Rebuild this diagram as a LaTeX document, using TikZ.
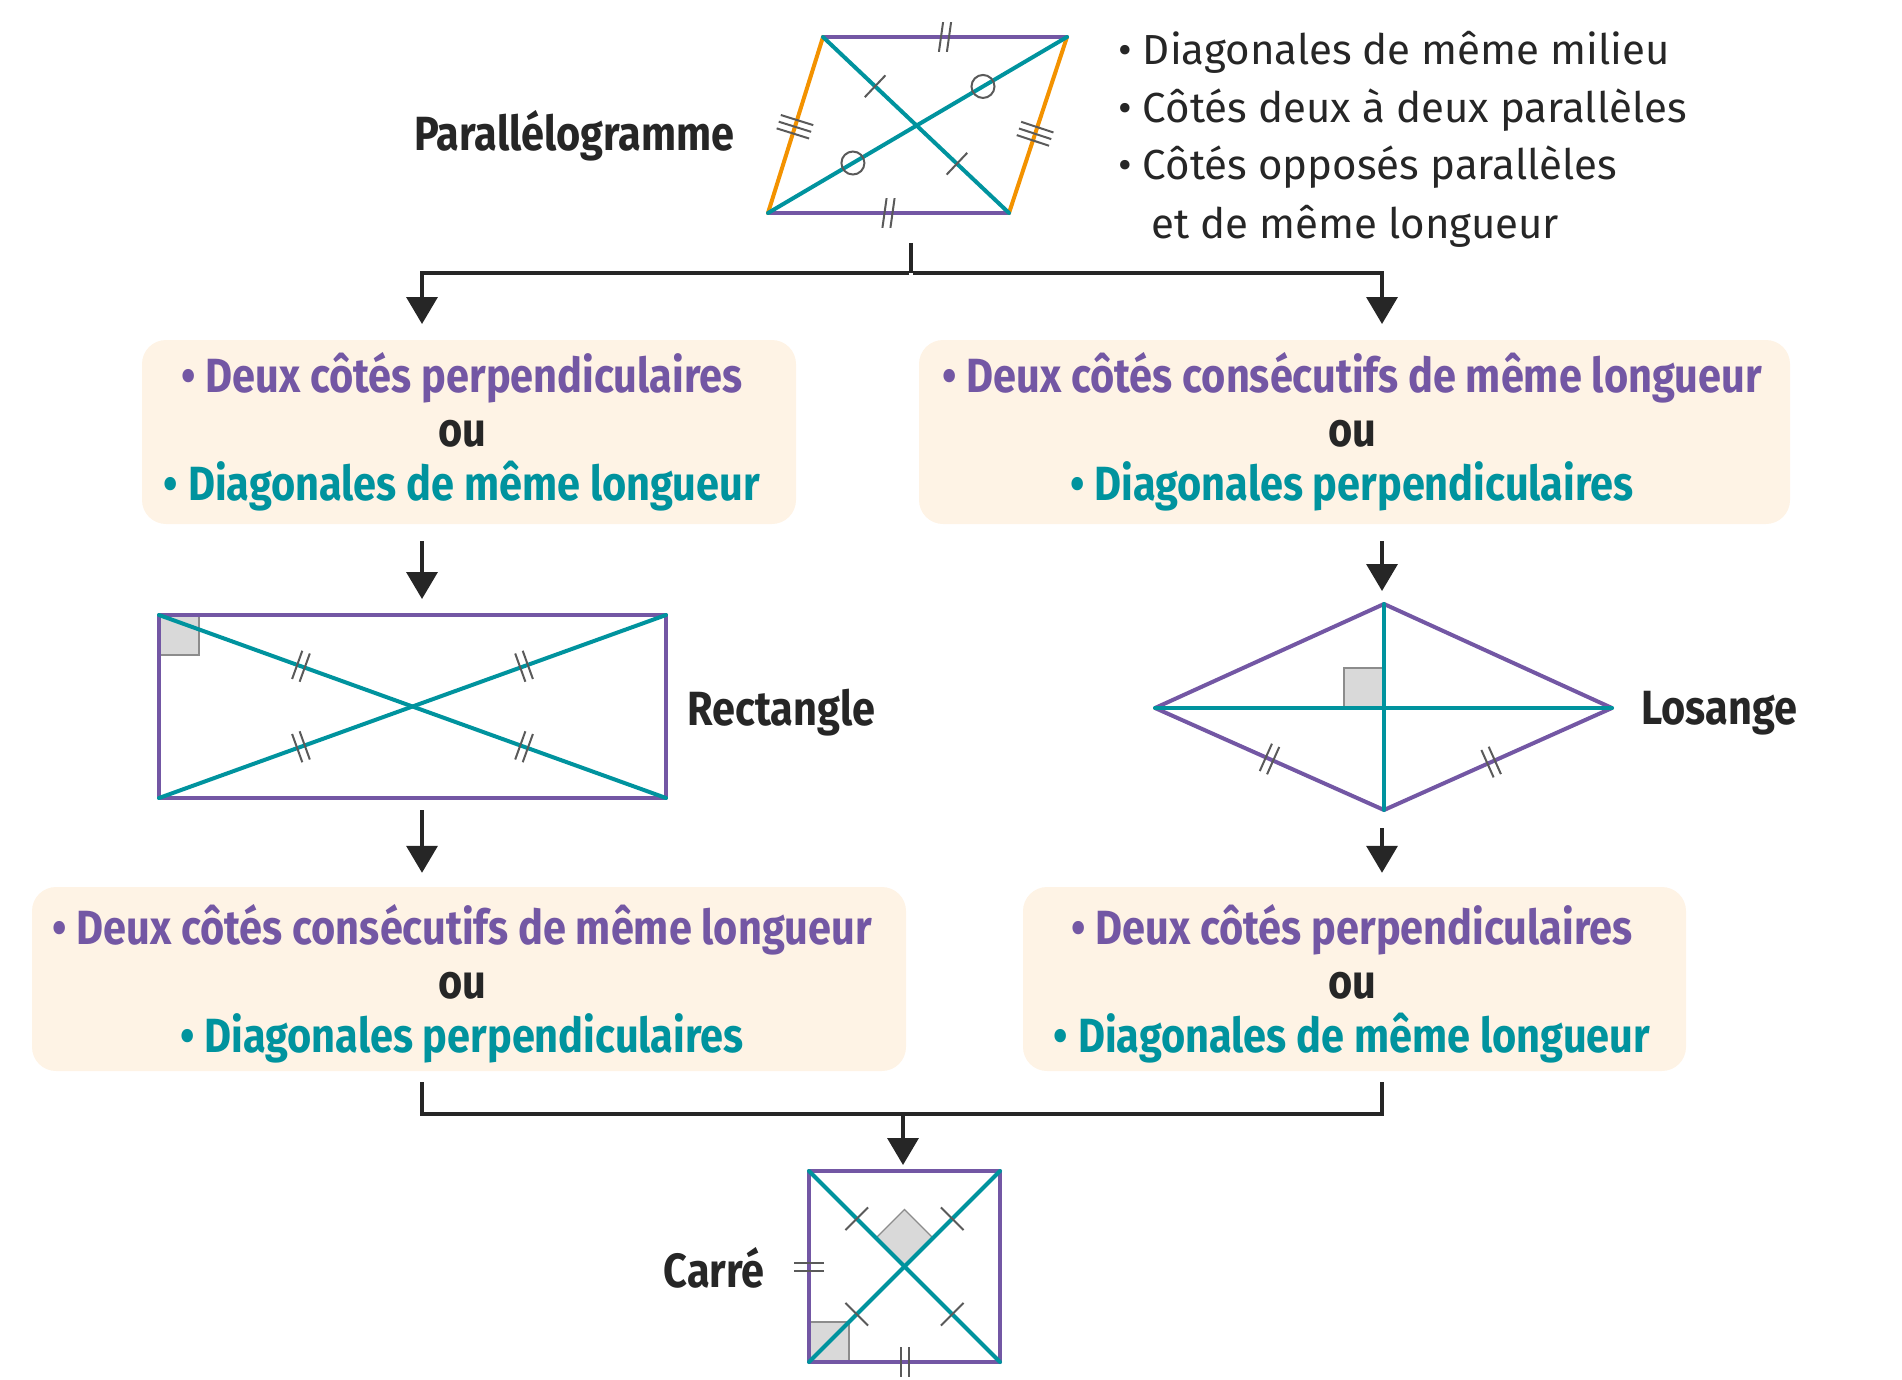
\documentclass[tikz,border=0pt]{standalone}
\usepackage{fontspec}
\setmainfont{Fira Sans}[FakeStretch=0.865]
\newfontfamily\regf{Fira Sans}
\usetikzlibrary{arrows.meta,calc}
\definecolor{purp}{HTML}{7357A4}
\definecolor{tealc}{HTML}{00939E}
\definecolor{orng}{HTML}{F39200}
\definecolor{dark}{HTML}{262626}
\definecolor{boxfill}{HTML}{FEF3E5}
\definecolor{tickc}{HTML}{5A5A5A}
\definecolor{anglef}{HTML}{D9D9D9}
\definecolor{angled}{HTML}{8C8C8C}
\newcommand\mytick[7]{%
  \coordinate (tkP) at ($(#1)!#3!(#2)$);
  \coordinate (tkQ) at ($(tkP)!#5!(#2)$);
  \draw[tickst] ($(tkQ)!#4!#6:(#2)$) -- ($(tkQ)!#4!#7:(#2)$);}
\tikzset{
  box/.style={fill=boxfill, rounded corners=24pt, inner sep=0pt},
  boxtext/.style={inner sep=0pt, align=center, font=\fontsize{48}{54}\selectfont\bfseries},
  arr/.style={draw=dark, line width=3.5pt, -{Triangle[width=31pt,length=27pt]}},
  conn/.style={draw=dark, line width=3.5pt},
  side/.style={draw=purp, line width=4pt, line cap=round, line join=round},
  oside/.style={draw=orng, line width=4pt, line cap=round},
  diag/.style={draw=tealc, line width=4pt, line cap=round},
  tickst/.style={draw=tickc, line width=2pt},
  angsq/.style={fill=anglef, draw=angled, line width=1.2pt},
  lbl/.style={font=\fontsize{48}{54}\selectfont\bfseries, text=dark, inner sep=0pt},
  bul/.style={font=\regf\fontsize{42}{58}\selectfont, text=dark, inner sep=0pt, anchor=west}
}
\begin{document}
\begin{tikzpicture}[x=1pt,y=-1pt]
\useasboundingbox (0,0) rectangle (1902,1380);

% ---------- Parallelogram ----------
\coordinate (PTL) at (823,37);
\coordinate (PTR) at (1067,37);
\coordinate (PBR) at (1009,213);
\coordinate (PBL) at (768,213);
\draw[side] (PTL) -- (PTR);
\draw[side] (PBL) -- (PBR);
\draw[oside] (PTL) -- (PBL);
\draw[oside] (PTR) -- (PBR);
\draw[diag] (PTL) -- (PBR);
\draw[diag] (PBL) -- (PTR);
\mytick{PTL}{PTR}{0.5}{15pt}{-4pt}{82}{-98}
\mytick{PTL}{PTR}{0.5}{15pt}{4pt}{82}{-98}
\mytick{PBL}{PBR}{0.5}{15pt}{-4pt}{82}{-98}
\mytick{PBL}{PBR}{0.5}{15pt}{4pt}{82}{-98}
\mytick{PTL}{PBL}{0.51}{17pt}{-7pt}{90}{-90}
\mytick{PTL}{PBL}{0.51}{17pt}{0pt}{90}{-90}
\mytick{PTL}{PBL}{0.51}{17pt}{7pt}{90}{-90}
\mytick{PTR}{PBR}{0.55}{17pt}{-7pt}{90}{-90}
\mytick{PTR}{PBR}{0.55}{17pt}{0pt}{90}{-90}
\mytick{PTR}{PBR}{0.55}{17pt}{7pt}{90}{-90}
\mytick{PTL}{PBR}{0.28}{15pt}{0pt}{90}{-90}
\mytick{PTL}{PBR}{0.72}{15pt}{0pt}{90}{-90}
\draw[tickst] ($(PBL)!0.284!(PTR)$) circle[radius=11.5pt];
\draw[tickst] ($(PBL)!0.719!(PTR)$) circle[radius=11.5pt];
\node[lbl, anchor=east] (lpar) at (735,136) {Parallélogramme};
\node[bul] (b1) at (1118,52) {• Diagonales de même milieu};
\node[bul] (b2) at (1118,110) {• Côtés deux à deux parallèles};
\node[bul] (b3) at (1118,167) {• Côtés opposés parallèles};
\node[bul] (b4) at (1151,226) {et de même longueur};

% ---------- Boxes ----------
\node[box, minimum width=654pt, minimum height=184pt] (bA) at (469,432) {};
\node[boxtext] (tA) at (462,432)
  {\textcolor{purp}{• Deux côtés perpendiculaires}\\ \textcolor{dark}{ou}\\ \textcolor{tealc}{• Diagonales de même longueur}};
\node[box, minimum width=871pt, minimum height=184pt] (bB) at (1354.5,432) {};
\node[boxtext] (tB) at (1352,432)
  {\textcolor{purp}{• Deux côtés consécutifs de même longueur}\\ \textcolor{dark}{ou}\\ \textcolor{tealc}{• Diagonales perpendiculaires}};
\node[box, minimum width=874pt, minimum height=184pt] (bC) at (469,979) {};
\node[boxtext] (tC) at (462,984)
  {\textcolor{purp}{• Deux côtés consécutifs de même longueur}\\ \textcolor{dark}{ou}\\ \textcolor{tealc}{• Diagonales perpendiculaires}};
\node[box, minimum width=663pt, minimum height=184pt] (bD) at (1354.5,979) {};
\node[boxtext] (tD) at (1352,984)
  {\textcolor{purp}{• Deux côtés perpendiculaires}\\ \textcolor{dark}{ou}\\ \textcolor{tealc}{• Diagonales de même longueur}};

% ---------- Rectangle ----------
\coordinate (RTL) at (159,615);
\coordinate (RTR) at (666,615);
\coordinate (RBR) at (666,798);
\coordinate (RBL) at (159,798);
\draw[angsq] (RTL) rectangle ++(40,40);
\draw[side] (RTL) -- (RTR) -- (RBR) -- (RBL) -- cycle;
\draw[diag] (RTL) -- (RBR);
\draw[diag] (RBL) -- (RTR);
\foreach \t in {0.28,0.72}{
  \mytick{RTL}{RBR}{\t}{15pt}{-4pt}{90}{-90}
  \mytick{RTL}{RBR}{\t}{15pt}{4pt}{90}{-90}
  \mytick{RBL}{RTR}{\t}{15pt}{-4pt}{90}{-90}
  \mytick{RBL}{RTR}{\t}{15pt}{4pt}{90}{-90}
}
\node[lbl, anchor=west] (lrect) at (687,713) {Rectangle};

% ---------- Rhombus ----------
\coordinate (LL) at (1155,708);
\coordinate (LT) at (1384,604);
\coordinate (LR) at (1612,708);
\coordinate (LB) at (1384,810);
\draw[angsq] (1384,708) rectangle ++(-40,-40);
\draw[side] (LL) -- (LT) -- (LR) -- (LB) -- cycle;
\draw[diag] (LL) -- (LR);
\draw[diag] (LT) -- (LB);
\mytick{LL}{LB}{0.5}{15pt}{-4pt}{90}{-90}
\mytick{LL}{LB}{0.5}{15pt}{4pt}{90}{-90}
\mytick{LB}{LR}{0.47}{15pt}{-4pt}{90}{-90}
\mytick{LB}{LR}{0.47}{15pt}{4pt}{90}{-90}
\node[lbl, anchor=west] (llos) at (1641,713) {Losange};

% ---------- Square ----------
\coordinate (CTL) at (809,1171);
\coordinate (CTR) at (1000,1171);
\coordinate (CBR) at (1000,1362);
\coordinate (CBL) at (809,1362);
\coordinate (CC) at (904.5,1266.5);
\draw[angsq] (CBL) rectangle ++(40,-40);
\draw[angsq] (CC) -- ++(-28.5,-28.5) -- ++(28.5,-28.5) -- ++(28.5,28.5) -- cycle;
\draw[side] (CTL) -- (CTR) -- (CBR) -- (CBL) -- cycle;
\draw[diag] (CTL) -- (CBR);
\draw[diag] (CBL) -- (CTR);
\foreach \t in {0.25,0.75}{
  \mytick{CTL}{CBR}{\t}{16pt}{0pt}{90}{-90}
  \mytick{CBL}{CTR}{\t}{16pt}{0pt}{90}{-90}
}
\mytick{CTL}{CBL}{0.5}{15pt}{-4pt}{90}{-90}
\mytick{CTL}{CBL}{0.5}{15pt}{4pt}{90}{-90}
\mytick{CBL}{CBR}{0.5}{15pt}{-4pt}{90}{-90}
\mytick{CBL}{CBR}{0.5}{15pt}{4pt}{90}{-90}
\node[lbl, anchor=east] (lcar) at (765,1268) {Carré};

% ---------- Connectors ----------
\coordinate (s0) at (911,243);
\coordinate (j0) at (911,273);
\coordinate (jA) at (422,273);
\coordinate (jB) at (1382,273);
\draw[conn] (s0) -- (j0);
\draw[arr] ([xshift=-1.75pt]j0) -| (422,324);
\draw[arr] ([xshift=1.75pt]j0) -| (1382,324);
\draw[arr] ($(bA.south -| jA)+(0,17)$) -- (422,599);
\draw[arr] ($(bB.south -| jB)+(0,17)$) -- (1382,591);
\draw[arr] (422,810) -- ($(bC.north -| jA)+(0,-14)$);
\draw[arr] (1382,828) -- ($(bD.north -| jB)+(0,-14)$);
\coordinate (kC) at ($(bC.south -| jA)+(0,11)$);
\coordinate (kD) at ($(bD.south -| jB)+(0,11)$);
\draw[conn, line join=miter] (kC) -- (422,1114) -- (1382,1114) -- (kD);
\draw[arr] (903,1114) -- (903,1165);
\end{tikzpicture}
\end{document}
